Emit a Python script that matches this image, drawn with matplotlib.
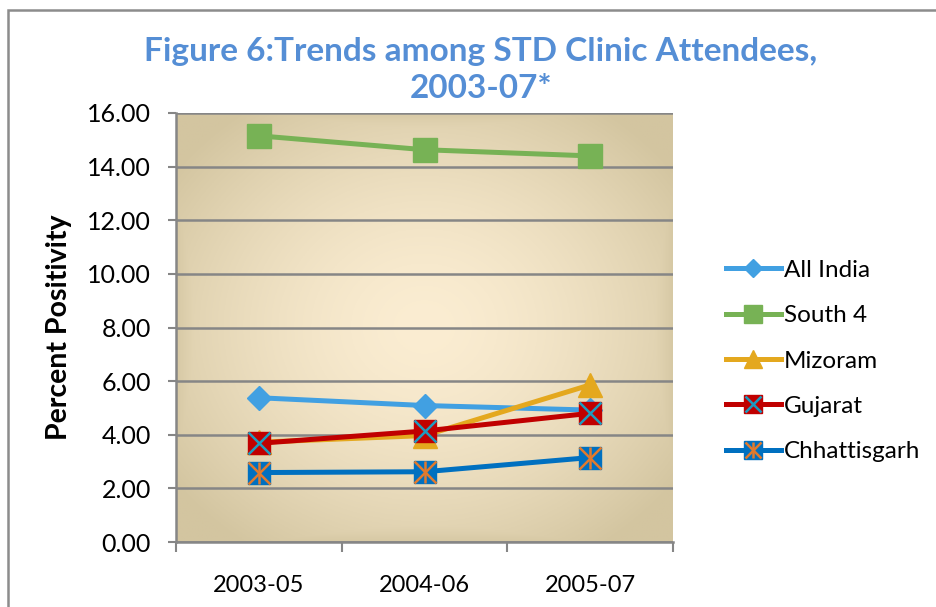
import numpy as np
import matplotlib
matplotlib.use('Agg')
import matplotlib.pyplot as plt
from matplotlib.patches import Rectangle

plt.rcParams['font.family'] = ['Lato', 'DejaVu Sans']

periods = ['2003-05', '2004-06', '2005-07']
all_india = [5.38, 5.09, 4.92]
south4 = [15.15, 14.63, 14.40]
mizoram = [3.72, 3.97, 5.86]
gujarat = [3.68, 4.14, 4.80]
chhattisgarh = [2.59, 2.62, 3.15]

fig = plt.figure(figsize=(9.36, 6.07), dpi=100)
ax = fig.add_axes([176/936, 65/607, 497/936, 429/607])

# radial-ish beige background like the Excel fill
nx, ny = 300, 260
u = np.linspace(-1, 1, nx)[None, :]
v = np.linspace(-1, 1, ny)[:, None]
t = np.clip(np.sqrt(u**2 + v**2) / 1.25, 0, 1) ** 1.6
t = np.maximum(t, np.clip(np.abs(u), 0, 1) ** 5 * 0.9)
t = np.maximum(t, np.clip(np.abs(v), 0, 1) ** 5 * 0.9)
c_mid = np.array([251, 237, 210]) / 255
c_edge = np.array([211, 197, 160]) / 255
img = c_mid + (c_edge - c_mid) * t[..., None]
ax.imshow(img, extent=[-0.5, 2.5, 0, 16], aspect='auto', zorder=0)

x = np.arange(len(periods))
lw = 3.6
h1, = ax.plot(x, all_india, color='#41A0E2', lw=lw, marker='D', ms=12, zorder=3)
h2, = ax.plot(x, south4, color='#77B255', lw=lw, marker='s', ms=17, zorder=3)
h3, = ax.plot(x, mizoram, color='#E4A81E', lw=lw, marker='^', ms=17, zorder=4)
h4, = ax.plot(x, gujarat, color='#C00000', lw=lw, marker='s', ms=16.5, zorder=5)
h4x, = ax.plot(x, gujarat, ls='none', marker='x', ms=16, mew=1.8, color='#1E9BC0', zorder=6)
h5, = ax.plot(x, chhattisgarh, color='#0070C0', lw=lw, marker='s', ms=16.5, zorder=5)
h5x, = ax.plot(x, chhattisgarh, ls='none', marker='x', ms=16, mew=1.8, color='#E07A2E', zorder=6)
h5v, = ax.plot(x, chhattisgarh, ls='none', marker='|', ms=16, mew=1.8, color='#E07A2E', zorder=6)

ax.set_xlim(-0.5, 2.5)
ax.set_ylim(0, 16)
ax.set_yticks(np.arange(0, 17, 2))
ax.set_yticklabels(['%.2f' % y for y in np.arange(0, 17, 2)], fontsize=18)
ax.set_xticks(x)
ax.set_xticklabels(periods, fontsize=17)
ax.set_xticks([-0.5, 0.5, 1.5, 2.5], minor=True)
ax.tick_params(axis='x', which='major', length=0, pad=24)
ax.tick_params(axis='x', which='minor', length=7, width=1.5, color='#868686')
ax.tick_params(axis='y', length=6, width=1.5, color='#868686', pad=12)
ax.grid(axis='y', color='#868686', lw=1.8, zorder=1)
for s in ['top', 'right']:
    ax.spines[s].set_visible(False)
for s in ['left', 'bottom']:
    ax.spines[s].set_color('#868686')
    ax.spines[s].set_linewidth(1.8)

ax.set_ylabel('Percent Positivity', fontsize=20.5, fontweight='bold', labelpad=11)

fig.text(481/936, 1 - 70/607, 'Figure 6:Trends among STD Clinic Attendees,\n2003-07*',
         ha='center', va='center', multialignment='center', fontsize=24,
         fontweight='bold', color='#558ED5', linespacing=1.3)

leg = fig.legend([h1, h2, h3, (h4, h4x), (h5, h5x, h5v)],
                 ['All India', 'South 4', 'Mizoram', 'Gujarat', 'Chhattisgarh'],
                 loc='center left', bbox_to_anchor=(704/936, 1 - 361/607),
                 frameon=False, fontsize=17.5, markerscale=0.75,
                 handlelength=2.25, handletextpad=0.15, labelspacing=1.0)

# outer chart border
fig.add_artist(Rectangle((8/936, -0.1), 1.2, 1 - 10/607 + 0.1,
                         transform=fig.transFigure, fill=False,
                         ec='#8C8C8C', lw=1.8))

fig.savefig('out.png', dpi=100)
